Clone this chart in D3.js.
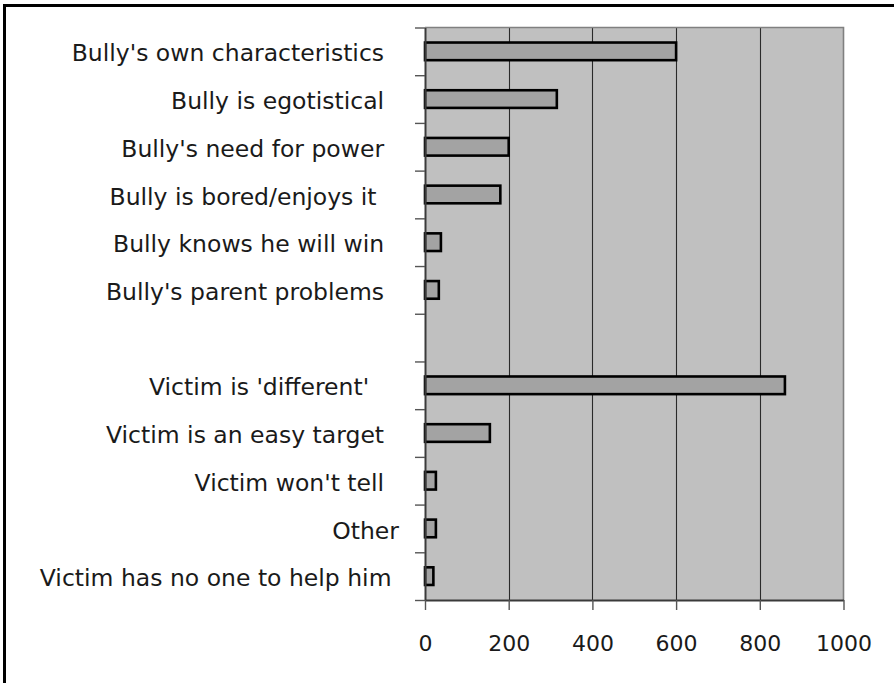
<!DOCTYPE html>
<html>
<head>
<meta charset="utf-8">
<script src="https://cdn.jsdelivr.net/npm/d3@7"></script>
<style>
  html, body { margin: 0; padding: 0; background: #ffffff; }
  svg { display: block; }
  text { font-family: "DejaVu Sans", sans-serif; fill: #1a1a1a; }
</style>
</head>
<body>
<svg id="chart" width="894" height="683"></svg>
<script>
// Reasons given for bullying (number of responses); the empty slot separates
// bully-related reasons from victim-related ones.
const categories = [
  "Bully's own characteristics  ",
  "Bully is egotistical  ",
  "Bully's need for power  ",
  "Bully is bored/enjoys it   ",
  "Bully knows he will win  ",
  "Bully's parent problems  ",
  "",
  "Victim is 'different'    ",
  "Victim is an easy target  ",
  "Victim won't tell  ",
  "Other",
  "Victim has no one to help him "
];
const responses = [600, 315, 200, 180, 38, 33, null, 860, 155, 26, 26, 20];
const xTicks = [0, 200, 400, 600, 800, 1000];

const svg = d3.select("#chart");
const W = 894, H = 683;
const plot = { left: 425, right: 843.5, top: 27.5, bottom: 600 };

// outer frame (runs off the right and bottom edges)
svg.append("rect")
  .attr("x", 4.5).attr("y", 5.5)
  .attr("width", W + 20).attr("height", H + 20)
  .attr("fill", "none").attr("stroke", "#000").attr("stroke-width", 3);

const x = d3.scaleLinear().domain([0, 1000]).range([plot.left, plot.right]);
const idx = d3.range(categories.length);
const y = d3.scaleBand().domain(idx).range([plot.top, plot.bottom])
  .paddingInner(0.63).paddingOuter(0.315);
// band boundaries for the category tick marks
const yEdge = d3.scaleLinear().domain([0, categories.length]).range([plot.top, plot.bottom]);

// plot background
svg.append("rect")
  .attr("x", plot.left).attr("y", plot.top)
  .attr("width", plot.right - plot.left).attr("height", plot.bottom - plot.top)
  .attr("fill", "#c0c0c0");

// vertical gridlines
svg.append("g").selectAll("line")
  .data(xTicks.filter(t => t > 0 && t < 1000))
  .join("line")
  .attr("x1", d => Math.round(x(d)) + 0.5).attr("x2", d => Math.round(x(d)) + 0.5)
  .attr("y1", plot.top).attr("y2", plot.bottom)
  .attr("stroke", "#2a2a2a").attr("stroke-width", 1.1);

// plot border, top and right
svg.append("path")
  .attr("d", `M${plot.left},${plot.top}H${plot.right}V${plot.bottom}`)
  .attr("fill", "none").attr("stroke", "#808080").attr("stroke-width", 1.6);

// bars
svg.append("g").selectAll("rect")
  .data(idx.filter(i => responses[i] != null))
  .join("rect")
  .attr("x", x(0))
  .attr("y", i => y(i))
  .attr("width", i => x(responses[i]) - x(0))
  .attr("height", y.bandwidth())
  .attr("fill", "#a3a3a3")
  .attr("stroke", "#000")
  .attr("stroke-width", 2.6);

// category axis: tick marks between bands
const yAxis = svg.append("g")
  .attr("transform", `translate(${plot.left},0)`)
  .call(d3.axisLeft(yEdge).tickValues(d3.range(categories.length + 1))
    .tickFormat("").tickSize(10).tickSizeOuter(0));
yAxis.select(".domain").attr("stroke", "#3a3a3a").attr("stroke-width", 2);
yAxis.selectAll(".tick line").attr("stroke", "#555").attr("stroke-width", 1.4);

// category labels
svg.append("g").selectAll("text")
  .data(idx)
  .join("text")
  .attr("x", 399)
  .attr("y", i => y(i) + y.bandwidth() / 2)
  .attr("dy", "0.43em")
  .attr("text-anchor", "end")
  .attr("xml:space", "preserve")
  .style("white-space", "pre")
  .style("font-size", "23.5px")
  .text(i => categories[i]);

// value axis
const xAxis = svg.append("g")
  .attr("transform", `translate(0,${plot.bottom})`)
  .call(d3.axisBottom(x).tickValues(xTicks).tickFormat(d3.format("d"))
    .tickSize(10).tickSizeOuter(0));
xAxis.select(".domain").attr("stroke", "#3a3a3a").attr("stroke-width", 2);
xAxis.selectAll(".tick line").attr("stroke", "#555").attr("stroke-width", 1.4);
xAxis.selectAll(".tick text")
  .attr("y", 51).attr("dy", null)
  .style("font-family", "'DejaVu Sans', sans-serif")
  .style("font-size", "22px")
  .attr("fill", "#1a1a1a");
</script>
</body>
</html>
